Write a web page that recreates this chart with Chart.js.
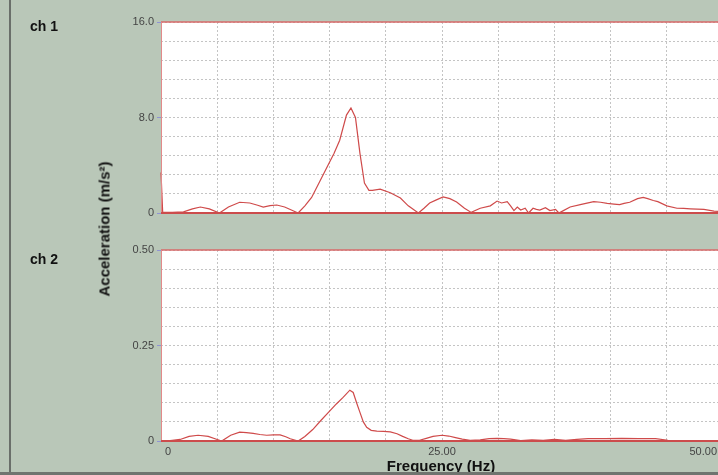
<!DOCTYPE html>
<html>
<head>
<meta charset="utf-8">
<script src="https://cdn.jsdelivr.net/npm/chart.js@4.4.0/dist/chart.umd.min.js"></script>
<style>
  html, body { margin: 0; padding: 0; }
  body { width: 718px; height: 475px; overflow: hidden; background: #b9c7b8; position: relative;
         font-family: "Liberation Sans", Arial, sans-serif; }
  canvas { position: absolute; left: 0; top: 0; }
  .lbl { position: absolute; font-weight: bold; color: #111; white-space: nowrap; }
  .ch { font-size: 14px; line-height: 14px; left: 30px; }
  #ytitle { font-size: 15px; left: 104px; top: 229px; transform: translate(-50%, -50%) rotate(-90deg); }
  #xtitle { font-size: 15px; left: 441px; top: 465px; transform: translate(-50%, -50%); }
  #edgeL { position: absolute; left: 9px; top: 0; width: 2px; height: 475px; background: #6a6f6a; }
  #edgeB { position: absolute; left: 0; top: 472px; width: 718px; height: 3px; background: #6f746f; }
</style>
</head>
<body>
<div id="edgeL"></div>
<canvas id="c1" width="730" height="475"></canvas>
<canvas id="c2" width="730" height="475"></canvas>
<div class="lbl ch" style="top:19px">ch 1</div>
<div class="lbl ch" style="top:252px">ch 2</div>
<div class="lbl" id="ytitle">Acceleration (m/s²)</div>
<div class="lbl" id="xtitle">Frequency (Hz)</div>
<div id="edgeB"></div>
<script>
// ---------- data ----------
const ch1Freq = [0, 0.15, 1.0, 2.0, 2.8, 3.5, 4.3, 5.2, 6.0, 7.0, 7.9, 8.6, 9.1, 9.7, 10.3, 11.0, 11.6, 12.2, 12.8, 13.4,
  14.1, 14.8, 15.4, 15.9, 16.5, 16.9, 17.3, 17.7, 18.1, 18.5, 18.8, 19.5, 20.4, 21.3, 22.0, 22.9, 23.4, 23.9, 24.5, 25.1,
  25.7, 26.3, 27.0, 27.6, 28.4, 29.3, 29.9, 30.3, 30.8, 31.1, 31.4, 31.7, 32.0, 32.4, 32.7, 33.1, 33.4, 33.7, 34.2, 34.6,
  35.1, 35.4, 35.8, 36.4, 37.3, 38.0, 38.5, 39.1, 39.7, 40.3, 40.8, 41.2, 41.7, 42.4, 42.9, 43.3, 43.8, 44.2, 45.0, 45.9,
  46.5, 47.1, 47.7, 48.3, 49.2, 50.0];
const ch1Acc = [3.4, 0.05, 0.05, 0.1, 0.35, 0.5, 0.35, 0.0, 0.5, 0.9, 0.84, 0.65, 0.5, 0.62, 0.67, 0.5, 0.25, 0.0, 0.6, 1.3,
  2.6, 3.9, 5.0, 6.1, 8.2, 8.8, 8.0, 5.0, 2.5, 1.9, 1.9, 2.0, 1.7, 1.25, 0.6, 0.0, 0.4, 0.84, 1.1, 1.34,
  1.2, 0.92, 0.4, 0.05, 0.4, 0.6, 1.0, 0.84, 0.95, 0.6, 0.2, 0.5, 0.25, 0.4, 0.0, 0.4, 0.3, 0.25, 0.45, 0.2,
  0.3, 0.0, 0.2, 0.5, 0.7, 0.85, 0.95, 0.9, 0.8, 0.75, 0.7, 0.8, 0.9, 1.2, 1.3, 1.2, 1.05, 0.95, 0.6, 0.4,
  0.38, 0.35, 0.32, 0.3, 0.15, 0.12];

const ch2Freq = [0, 0.4, 1.0, 1.7, 2.5, 3.3, 4.2, 5.0, 5.4, 6.2, 7.0, 7.6, 8.2, 8.8, 9.4, 10.0, 10.6, 11.1, 11.5, 12.2,
  12.8, 13.5, 14.2, 15.0, 15.6, 16.2, 16.8, 17.1, 17.4, 17.7, 18.0, 18.3, 18.7, 19.2, 19.8, 20.4, 21.0, 21.5, 22.0, 22.4,
  23.0, 23.6, 24.2, 25.0, 25.6, 26.2, 26.8, 27.5, 28.4, 29.2, 29.9, 30.5, 31.1, 32.0, 33.0, 34.0, 35.0, 36.0, 37.0, 38.0,
  39.5, 41.0, 42.5, 44.0, 45.1, 46.0, 48.0, 50.0];
const ch2Acc = [0.002, 0.0, 0.002, 0.004, 0.012, 0.015, 0.012, 0.004, 0.0, 0.015, 0.023, 0.022, 0.02, 0.017, 0.015, 0.016, 0.016, 0.011, 0.006, 0.0,
  0.012, 0.03, 0.053, 0.078, 0.097, 0.114, 0.133, 0.127, 0.1, 0.075, 0.05, 0.036, 0.028, 0.026, 0.025, 0.024, 0.019, 0.012, 0.006, 0.002,
  0.002, 0.007, 0.012, 0.015, 0.013, 0.009, 0.005, 0.002, 0.003, 0.006, 0.007, 0.006, 0.005, 0.001, 0.003, 0.002, 0.004, 0.002, 0.004, 0.006,
  0.006, 0.007, 0.006, 0.006, 0.002, 0.001, 0.001, 0.001];

const ch1Ticks = ['0', '8.0', '16.0'];
const ch2Ticks = ['0', '0.25', '0.50'];
const freqTicks = ['0', '25.00', '50.00'];

// ---------- helpers ----------
const gridColor = '#c4c4c4';
const lineColor = '#cf4a4a';

const plotFrame = {
  id: 'plotFrame',
  beforeDraw(chart) {
    const a = chart.chartArea, c = chart.ctx;
    c.save();
    c.fillStyle = '#ffffff';
    c.fillRect(a.left, a.top, a.right - a.left, a.bottom - a.top);
    c.restore();
  },
  afterDraw(chart) {
    const a = chart.chartArea, c = chart.ctx;
    c.save();
    c.strokeStyle = '#d96a6a'; c.lineWidth = 1.5;
    c.beginPath(); c.moveTo(a.left, a.top); c.lineTo(a.right, a.top); c.stroke();
    c.strokeStyle = '#e28a8a'; c.lineWidth = 1;
    c.beginPath(); c.moveTo(a.left + 0.5, a.top); c.lineTo(a.left + 0.5, a.bottom); c.stroke();
    c.strokeStyle = '#cc4c4c'; c.lineWidth = 2;
    c.beginPath(); c.moveTo(a.left, a.bottom); c.lineTo(a.right, a.bottom); c.stroke();
    c.restore();
  }
};

// x tick labels for the bottom plot
const freqLabels = {
  id: 'freqLabels',
  afterDraw(chart) {
    const x = chart.scales.x, c = chart.ctx, y = chart.chartArea.bottom + 11;
    c.save();
    c.font = '11px "Liberation Sans", Arial, sans-serif';
    c.fillStyle = '#444';
    c.textBaseline = 'middle';
    c.textAlign = 'center';
    c.fillText(freqTicks[0], x.getPixelForValue(0) + 7, y);
    c.fillText(freqTicks[1], x.getPixelForValue(25), y);
    c.textAlign = 'right';
    c.fillText(freqTicks[2], 717, y);
    c.restore();
  }
};

function makeChart(id, freq, acc, yMax, step, labels, top, bottom, extra) {
  const lab = v => {
    if (Math.abs(v) < 1e-9) return labels[0];
    if (Math.abs(v - yMax / 2) < step / 10) return labels[1];
    if (Math.abs(v - yMax) < step / 10) return labels[2];
    return '';
  };
  return new Chart(document.getElementById(id), {
    type: 'line',
    data: {
      datasets: [{
        data: freq.map((f, i) => ({ x: f, y: acc[i] })),
        borderColor: lineColor,
        borderWidth: 1.2,
        pointRadius: 0,
        tension: 0,
        clip: false
      }]
    },
    options: {
      responsive: false,
      animation: false,
      layout: { padding: { top: top, bottom: 475 - bottom, left: 0, right: 7 } },
      plugins: { legend: { display: false }, tooltip: { enabled: false } },
      scales: {
        x: {
          type: 'linear', min: 0, max: 50,
          ticks: { display: false, stepSize: 5 },
          grid: { color: gridColor, lineWidth: 1, drawTicks: false },
          border: { display: false, dash: [2, 2] },
          afterFit: s => { s.height = 0; }
        },
        y: {
          min: 0, max: yMax,
          ticks: {
            stepSize: step, autoSkip: false, padding: 3,
            color: '#444', font: { family: '"Liberation Sans", Arial, sans-serif', size: 11 },
            callback: v => lab(v)
          },
          grid: {
            color: c => (c.tick && Math.abs(c.tick.value) < 1e-9) ? 'transparent' : gridColor,
            tickLength: 4,
            tickColor: c => (c.tick && lab(c.tick.value) !== '') ? '#8f93d4' : 'transparent'
          },
          border: { display: false, dash: [2, 2] },
          afterFit: s => { s.width = 161; }
        }
      }
    },
    plugins: extra ? [plotFrame, extra] : [plotFrame]
  });
}

makeChart('c1', ch1Freq, ch1Acc, 16, 1.6, ch1Ticks, 22, 213, null);
makeChart('c2', ch2Freq, ch2Acc, 0.5, 0.05, ch2Ticks, 250, 441, freqLabels);
</script>
</body>
</html>
